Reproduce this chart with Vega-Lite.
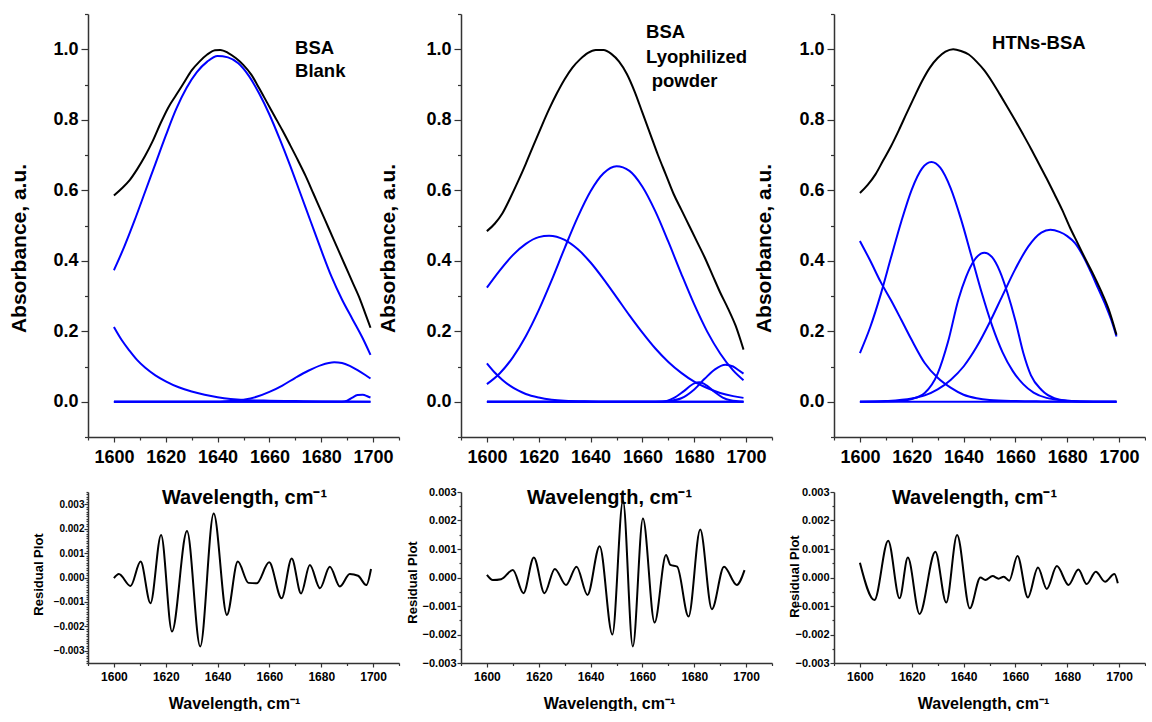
{
  "$schema": "https://vega.github.io/schema/vega-lite/v6.json",
  "background": "white",
  "padding": {"left": 8, "top": 5, "right": 0, "bottom": 0},
  "bounds": "flush",
  "columns": 3,
  "spacing": {"row": 55, "column": 62},
  "config": {
    "view": {"stroke": null},
    "font": "Liberation Sans",
    "axis": {
      "grid": false,
      "domainColor": "#333333",
      "domainWidth": 1.5,
      "tickColor": "#333333",
      "tickWidth": 1.2,
      "labelColor": "#000000",
      "titleColor": "#000000",
      "labelFont": "Liberation Sans",
      "titleFont": "Liberation Sans",
      "labelFontWeight": "bold",
      "titleFontWeight": "bold",
      "labelOverlap": false,
      "labelFlush": false,
      "labelBound": false
    }
  },
  "datasets": {
    "curves": [
      {"p":"A","c":"env","w":1600,"a":0.585},{"p":"A","c":"env","w":1603,"a":0.605},{"p":"A","c":"env","w":1606,"a":0.628},{"p":"A","c":"env","w":1609,"a":0.66},{"p":"A","c":"env","w":1612,"a":0.697},{"p":"A","c":"env","w":1615,"a":0.74},{"p":"A","c":"env","w":1618,"a":0.79},{"p":"A","c":"env","w":1621,"a":0.835},{"p":"A","c":"env","w":1624,"a":0.87},{"p":"A","c":"env","w":1627,"a":0.905},{"p":"A","c":"env","w":1630,"a":0.94},{"p":"A","c":"env","w":1633,"a":0.965},{"p":"A","c":"env","w":1636,"a":0.985},{"p":"A","c":"env","w":1639,"a":0.997},{"p":"A","c":"env","w":1641,"a":0.998},{"p":"A","c":"env","w":1644,"a":0.99},{"p":"A","c":"env","w":1647,"a":0.975},{"p":"A","c":"env","w":1650,"a":0.955},{"p":"A","c":"env","w":1653,"a":0.928},{"p":"A","c":"env","w":1656,"a":0.89},{"p":"A","c":"env","w":1659,"a":0.85},{"p":"A","c":"env","w":1662,"a":0.81},{"p":"A","c":"env","w":1665,"a":0.77},{"p":"A","c":"env","w":1668,"a":0.728},{"p":"A","c":"env","w":1671,"a":0.685},{"p":"A","c":"env","w":1674,"a":0.64},{"p":"A","c":"env","w":1677,"a":0.59},{"p":"A","c":"env","w":1680,"a":0.54},{"p":"A","c":"env","w":1683,"a":0.49},{"p":"A","c":"env","w":1686,"a":0.44},{"p":"A","c":"env","w":1689,"a":0.39},{"p":"A","c":"env","w":1692,"a":0.34},{"p":"A","c":"env","w":1695,"a":0.29},{"p":"A","c":"env","w":1697,"a":0.25},{"p":"A","c":"env","w":1699,"a":0.21},

      {"p":"A","c":"b1","w":1600,"a":0.373},{"p":"A","c":"b1","w":1604,"a":0.44},{"p":"A","c":"b1","w":1608,"a":0.515},{"p":"A","c":"b1","w":1612,"a":0.595},{"p":"A","c":"b1","w":1616,"a":0.675},{"p":"A","c":"b1","w":1620,"a":0.755},{"p":"A","c":"b1","w":1624,"a":0.83},{"p":"A","c":"b1","w":1628,"a":0.89},{"p":"A","c":"b1","w":1632,"a":0.935},{"p":"A","c":"b1","w":1636,"a":0.965},{"p":"A","c":"b1","w":1640,"a":0.981},{"p":"A","c":"b1","w":1644,"a":0.977},{"p":"A","c":"b1","w":1648,"a":0.96},{"p":"A","c":"b1","w":1652,"a":0.925},{"p":"A","c":"b1","w":1656,"a":0.875},{"p":"A","c":"b1","w":1660,"a":0.815},{"p":"A","c":"b1","w":1664,"a":0.745},{"p":"A","c":"b1","w":1668,"a":0.67},{"p":"A","c":"b1","w":1672,"a":0.59},{"p":"A","c":"b1","w":1676,"a":0.51},{"p":"A","c":"b1","w":1680,"a":0.43},{"p":"A","c":"b1","w":1684,"a":0.354},{"p":"A","c":"b1","w":1688,"a":0.29},{"p":"A","c":"b1","w":1692,"a":0.235},{"p":"A","c":"b1","w":1696,"a":0.18},{"p":"A","c":"b1","w":1699,"a":0.133},

      {"p":"A","c":"b2","w":1600,"a":0.212},{"p":"A","c":"b2","w":1603,"a":0.175},{"p":"A","c":"b2","w":1606,"a":0.145},{"p":"A","c":"b2","w":1609,"a":0.118},{"p":"A","c":"b2","w":1612,"a":0.097},{"p":"A","c":"b2","w":1616,"a":0.075},{"p":"A","c":"b2","w":1620,"a":0.058},{"p":"A","c":"b2","w":1625,"a":0.041},{"p":"A","c":"b2","w":1630,"a":0.029},{"p":"A","c":"b2","w":1635,"a":0.02},{"p":"A","c":"b2","w":1640,"a":0.013},{"p":"A","c":"b2","w":1645,"a":0.008},{"p":"A","c":"b2","w":1650,"a":0.005},{"p":"A","c":"b2","w":1660,"a":0.003},{"p":"A","c":"b2","w":1670,"a":0.002},{"p":"A","c":"b2","w":1680,"a":0.001},{"p":"A","c":"b2","w":1699,"a":0.0},

      {"p":"A","c":"b3","w":1600,"a":0},{"p":"A","c":"b3","w":1640,"a":0},{"p":"A","c":"b3","w":1645,"a":0.002},{"p":"A","c":"b3","w":1650,"a":0.006},{"p":"A","c":"b3","w":1655,"a":0.014},{"p":"A","c":"b3","w":1660,"a":0.028},{"p":"A","c":"b3","w":1665,"a":0.046},{"p":"A","c":"b3","w":1670,"a":0.068},{"p":"A","c":"b3","w":1675,"a":0.088},{"p":"A","c":"b3","w":1680,"a":0.104},{"p":"A","c":"b3","w":1685,"a":0.112},{"p":"A","c":"b3","w":1688,"a":0.11},{"p":"A","c":"b3","w":1691,"a":0.102},{"p":"A","c":"b3","w":1694,"a":0.09},{"p":"A","c":"b3","w":1697,"a":0.076},{"p":"A","c":"b3","w":1699,"a":0.066},

      {"p":"A","c":"b4","w":1600,"a":0},{"p":"A","c":"b4","w":1688,"a":0},{"p":"A","c":"b4","w":1690,"a":0.003},{"p":"A","c":"b4","w":1692,"a":0.012},{"p":"A","c":"b4","w":1694,"a":0.019},{"p":"A","c":"b4","w":1696,"a":0.02},{"p":"A","c":"b4","w":1698,"a":0.015},{"p":"A","c":"b4","w":1699,"a":0.012},

      {"p":"A","c":"b5","w":1600,"a":0},{"p":"A","c":"b5","w":1699,"a":0},

      {"p":"B","c":"env","w":1600,"a":0.484},{"p":"B","c":"env","w":1603,"a":0.505},{"p":"B","c":"env","w":1606,"a":0.535},{"p":"B","c":"env","w":1609,"a":0.578},{"p":"B","c":"env","w":1612,"a":0.625},{"p":"B","c":"env","w":1615,"a":0.675},{"p":"B","c":"env","w":1618,"a":0.728},{"p":"B","c":"env","w":1621,"a":0.78},{"p":"B","c":"env","w":1624,"a":0.83},{"p":"B","c":"env","w":1627,"a":0.875},{"p":"B","c":"env","w":1630,"a":0.915},{"p":"B","c":"env","w":1633,"a":0.948},{"p":"B","c":"env","w":1636,"a":0.972},{"p":"B","c":"env","w":1639,"a":0.99},{"p":"B","c":"env","w":1642,"a":0.998},{"p":"B","c":"env","w":1645,"a":0.998},{"p":"B","c":"env","w":1648,"a":0.987},{"p":"B","c":"env","w":1651,"a":0.965},{"p":"B","c":"env","w":1654,"a":0.93},{"p":"B","c":"env","w":1657,"a":0.88},{"p":"B","c":"env","w":1660,"a":0.82},{"p":"B","c":"env","w":1663,"a":0.76},{"p":"B","c":"env","w":1666,"a":0.7},{"p":"B","c":"env","w":1669,"a":0.645},{"p":"B","c":"env","w":1672,"a":0.59},{"p":"B","c":"env","w":1675,"a":0.545},{"p":"B","c":"env","w":1678,"a":0.5},{"p":"B","c":"env","w":1681,"a":0.455},{"p":"B","c":"env","w":1684,"a":0.41},{"p":"B","c":"env","w":1687,"a":0.36},{"p":"B","c":"env","w":1690,"a":0.31},{"p":"B","c":"env","w":1693,"a":0.265},{"p":"B","c":"env","w":1696,"a":0.215},{"p":"B","c":"env","w":1699,"a":0.148},

      {"p":"B","c":"b1","w":1600,"a":0.05},{"p":"B","c":"b1","w":1605,"a":0.081},{"p":"B","c":"b1","w":1610,"a":0.126},{"p":"B","c":"b1","w":1615,"a":0.186},{"p":"B","c":"b1","w":1620,"a":0.26},{"p":"B","c":"b1","w":1625,"a":0.345},{"p":"B","c":"b1","w":1630,"a":0.436},{"p":"B","c":"b1","w":1635,"a":0.523},{"p":"B","c":"b1","w":1640,"a":0.597},{"p":"B","c":"b1","w":1645,"a":0.648},{"p":"B","c":"b1","w":1650,"a":0.668},{"p":"B","c":"b1","w":1655,"a":0.655},{"p":"B","c":"b1","w":1660,"a":0.61},{"p":"B","c":"b1","w":1665,"a":0.54},{"p":"B","c":"b1","w":1670,"a":0.454},{"p":"B","c":"b1","w":1675,"a":0.363},{"p":"B","c":"b1","w":1680,"a":0.276},{"p":"B","c":"b1","w":1685,"a":0.199},{"p":"B","c":"b1","w":1690,"a":0.137},{"p":"B","c":"b1","w":1695,"a":0.089},{"p":"B","c":"b1","w":1699,"a":0.061},

      {"p":"B","c":"b2","w":1600,"a":0.324},{"p":"B","c":"b2","w":1605,"a":0.373},{"p":"B","c":"b2","w":1610,"a":0.416},{"p":"B","c":"b2","w":1615,"a":0.448},{"p":"B","c":"b2","w":1620,"a":0.467},{"p":"B","c":"b2","w":1624,"a":0.471},{"p":"B","c":"b2","w":1630,"a":0.459},{"p":"B","c":"b2","w":1635,"a":0.433},{"p":"B","c":"b2","w":1640,"a":0.395},{"p":"B","c":"b2","w":1645,"a":0.348},{"p":"B","c":"b2","w":1650,"a":0.297},{"p":"B","c":"b2","w":1655,"a":0.245},{"p":"B","c":"b2","w":1660,"a":0.196},{"p":"B","c":"b2","w":1665,"a":0.151},{"p":"B","c":"b2","w":1670,"a":0.113},{"p":"B","c":"b2","w":1675,"a":0.082},{"p":"B","c":"b2","w":1680,"a":0.057},{"p":"B","c":"b2","w":1685,"a":0.039},{"p":"B","c":"b2","w":1690,"a":0.025},{"p":"B","c":"b2","w":1695,"a":0.016},{"p":"B","c":"b2","w":1699,"a":0.011},

      {"p":"B","c":"b3","w":1600,"a":0.109},{"p":"B","c":"b3","w":1603,"a":0.083},{"p":"B","c":"b3","w":1606,"a":0.062},{"p":"B","c":"b3","w":1609,"a":0.045},{"p":"B","c":"b3","w":1612,"a":0.032},{"p":"B","c":"b3","w":1615,"a":0.022},{"p":"B","c":"b3","w":1620,"a":0.012},{"p":"B","c":"b3","w":1625,"a":0.006},{"p":"B","c":"b3","w":1630,"a":0.003},{"p":"B","c":"b3","w":1640,"a":0.001},{"p":"B","c":"b3","w":1650,"a":0},{"p":"B","c":"b3","w":1699,"a":0},

      {"p":"B","c":"b4","w":1600,"a":0},{"p":"B","c":"b4","w":1665,"a":0},{"p":"B","c":"b4","w":1670,"a":0.002},{"p":"B","c":"b4","w":1675,"a":0.01},{"p":"B","c":"b4","w":1680,"a":0.035},{"p":"B","c":"b4","w":1684,"a":0.065},{"p":"B","c":"b4","w":1688,"a":0.092},{"p":"B","c":"b4","w":1692,"a":0.105},{"p":"B","c":"b4","w":1695,"a":0.1},{"p":"B","c":"b4","w":1697,"a":0.09},{"p":"B","c":"b4","w":1699,"a":0.08},

      {"p":"B","c":"b5","w":1600,"a":0},{"p":"B","c":"b5","w":1668,"a":0},{"p":"B","c":"b5","w":1672,"a":0.01},{"p":"B","c":"b5","w":1676,"a":0.03},{"p":"B","c":"b5","w":1680,"a":0.052},{"p":"B","c":"b5","w":1682,"a":0.055},{"p":"B","c":"b5","w":1685,"a":0.045},{"p":"B","c":"b5","w":1688,"a":0.027},{"p":"B","c":"b5","w":1691,"a":0.012},{"p":"B","c":"b5","w":1694,"a":0.004},{"p":"B","c":"b5","w":1699,"a":0},

      {"p":"B","c":"b6","w":1600,"a":0},{"p":"B","c":"b6","w":1699,"a":0},

      {"p":"C","c":"env","w":1600,"a":0.592},{"p":"C","c":"env","w":1603,"a":0.615},{"p":"C","c":"env","w":1606,"a":0.645},{"p":"C","c":"env","w":1609,"a":0.685},{"p":"C","c":"env","w":1612,"a":0.725},{"p":"C","c":"env","w":1615,"a":0.77},{"p":"C","c":"env","w":1618,"a":0.818},{"p":"C","c":"env","w":1621,"a":0.865},{"p":"C","c":"env","w":1624,"a":0.91},{"p":"C","c":"env","w":1627,"a":0.948},{"p":"C","c":"env","w":1630,"a":0.975},{"p":"C","c":"env","w":1633,"a":0.993},{"p":"C","c":"env","w":1636,"a":1.0},{"p":"C","c":"env","w":1639,"a":0.995},{"p":"C","c":"env","w":1642,"a":0.985},{"p":"C","c":"env","w":1645,"a":0.965},{"p":"C","c":"env","w":1648,"a":0.94},{"p":"C","c":"env","w":1651,"a":0.908},{"p":"C","c":"env","w":1654,"a":0.872},{"p":"C","c":"env","w":1657,"a":0.835},{"p":"C","c":"env","w":1660,"a":0.797},{"p":"C","c":"env","w":1663,"a":0.758},{"p":"C","c":"env","w":1666,"a":0.718},{"p":"C","c":"env","w":1669,"a":0.676},{"p":"C","c":"env","w":1672,"a":0.634},{"p":"C","c":"env","w":1675,"a":0.59},{"p":"C","c":"env","w":1678,"a":0.545},{"p":"C","c":"env","w":1681,"a":0.495},{"p":"C","c":"env","w":1684,"a":0.45},{"p":"C","c":"env","w":1687,"a":0.405},{"p":"C","c":"env","w":1690,"a":0.362},{"p":"C","c":"env","w":1693,"a":0.315},{"p":"C","c":"env","w":1696,"a":0.262},{"p":"C","c":"env","w":1699,"a":0.19},

      {"p":"C","c":"b1","w":1600,"a":0.138},{"p":"C","c":"b1","w":1604,"a":0.212},{"p":"C","c":"b1","w":1608,"a":0.304},{"p":"C","c":"b1","w":1612,"a":0.409},{"p":"C","c":"b1","w":1616,"a":0.512},{"p":"C","c":"b1","w":1620,"a":0.602},{"p":"C","c":"b1","w":1624,"a":0.662},{"p":"C","c":"b1","w":1627.6,"a":0.68},{"p":"C","c":"b1","w":1631,"a":0.664},{"p":"C","c":"b1","w":1635,"a":0.606},{"p":"C","c":"b1","w":1639,"a":0.518},{"p":"C","c":"b1","w":1643,"a":0.414},{"p":"C","c":"b1","w":1647,"a":0.309},{"p":"C","c":"b1","w":1651,"a":0.216},{"p":"C","c":"b1","w":1655,"a":0.141},{"p":"C","c":"b1","w":1659,"a":0.087},{"p":"C","c":"b1","w":1663,"a":0.05},{"p":"C","c":"b1","w":1667,"a":0.026},{"p":"C","c":"b1","w":1672,"a":0.011},{"p":"C","c":"b1","w":1680,"a":0.003},{"p":"C","c":"b1","w":1690,"a":0},{"p":"C","c":"b1","w":1699,"a":0},

      {"p":"C","c":"b2","w":1600,"a":0},{"p":"C","c":"b2","w":1615,"a":0.002},{"p":"C","c":"b2","w":1620,"a":0.008},{"p":"C","c":"b2","w":1625,"a":0.025},{"p":"C","c":"b2","w":1630,"a":0.08},{"p":"C","c":"b2","w":1634,"a":0.17},{"p":"C","c":"b2","w":1638,"a":0.29},{"p":"C","c":"b2","w":1641,"a":0.355},{"p":"C","c":"b2","w":1644,"a":0.4},{"p":"C","c":"b2","w":1648,"a":0.423},{"p":"C","c":"b2","w":1651,"a":0.41},{"p":"C","c":"b2","w":1654,"a":0.37},{"p":"C","c":"b2","w":1657,"a":0.307},{"p":"C","c":"b2","w":1660,"a":0.23},{"p":"C","c":"b2","w":1663,"a":0.14},{"p":"C","c":"b2","w":1666,"a":0.075},{"p":"C","c":"b2","w":1670,"a":0.034},{"p":"C","c":"b2","w":1675,"a":0.01},{"p":"C","c":"b2","w":1680,"a":0.003},{"p":"C","c":"b2","w":1690,"a":0},{"p":"C","c":"b2","w":1699,"a":0},

      {"p":"C","c":"b3","w":1600,"a":0},{"p":"C","c":"b3","w":1610,"a":0.002},{"p":"C","c":"b3","w":1620,"a":0.009},{"p":"C","c":"b3","w":1625,"a":0.018},{"p":"C","c":"b3","w":1630,"a":0.035},{"p":"C","c":"b3","w":1635,"a":0.062},{"p":"C","c":"b3","w":1640,"a":0.1},{"p":"C","c":"b3","w":1645,"a":0.155},{"p":"C","c":"b3","w":1650,"a":0.224},{"p":"C","c":"b3","w":1655,"a":0.301},{"p":"C","c":"b3","w":1660,"a":0.377},{"p":"C","c":"b3","w":1665,"a":0.441},{"p":"C","c":"b3","w":1670,"a":0.48},{"p":"C","c":"b3","w":1673.5,"a":0.488},{"p":"C","c":"b3","w":1677,"a":0.482},{"p":"C","c":"b3","w":1680,"a":0.47},{"p":"C","c":"b3","w":1683,"a":0.45},{"p":"C","c":"b3","w":1686,"a":0.415},{"p":"C","c":"b3","w":1689,"a":0.37},{"p":"C","c":"b3","w":1692,"a":0.32},{"p":"C","c":"b3","w":1695,"a":0.27},{"p":"C","c":"b3","w":1697,"a":0.232},{"p":"C","c":"b3","w":1699,"a":0.185},

      {"p":"C","c":"b4","w":1600,"a":0.456},{"p":"C","c":"b4","w":1604,"a":0.4},{"p":"C","c":"b4","w":1608,"a":0.34},{"p":"C","c":"b4","w":1612,"a":0.288},{"p":"C","c":"b4","w":1616,"a":0.232},{"p":"C","c":"b4","w":1620,"a":0.175},{"p":"C","c":"b4","w":1625,"a":0.11},{"p":"C","c":"b4","w":1630,"a":0.068},{"p":"C","c":"b4","w":1635,"a":0.04},{"p":"C","c":"b4","w":1640,"a":0.02},{"p":"C","c":"b4","w":1645,"a":0.01},{"p":"C","c":"b4","w":1650,"a":0.005},{"p":"C","c":"b4","w":1660,"a":0.002},{"p":"C","c":"b4","w":1670,"a":0.001},{"p":"C","c":"b4","w":1699,"a":0},

      {"p":"C","c":"b5","w":1600,"a":0},{"p":"C","c":"b5","w":1699,"a":0}
    ],
    "resid": [
      {"p":"A","w":1600,"r":-0.00003},{"p":"A","w":1601.9,"r":0.00014},{"p":"A","w":1606.4,"r":-0.00035},{"p":"A","w":1610.3,"r":0.00065},{"p":"A","w":1614.1,"r":-0.00105},{"p":"A","w":1618.2,"r":0.00174},{"p":"A","w":1622.4,"r":-0.00221},{"p":"A","w":1628.2,"r":0.0019},{"p":"A","w":1633.3,"r":-0.00282},{"p":"A","w":1638.5,"r":0.00262},{"p":"A","w":1643.6,"r":-0.00153},{"p":"A","w":1647.8,"r":0.00065},{"p":"A","w":1651.9,"r":-0.00022},{"p":"A","w":1655.1,"r":-0.00024},{"p":"A","w":1659.9,"r":0.00062},{"p":"A","w":1664.7,"r":-0.00085},{"p":"A","w":1668.6,"r":0.00078},{"p":"A","w":1672.2,"r":-0.00065},{"p":"A","w":1675.6,"r":0.00051},{"p":"A","w":1679.5,"r":-0.00044},{"p":"A","w":1683.3,"r":0.00044},{"p":"A","w":1687.2,"r":-0.00037},{"p":"A","w":1691,"r":0.00014},{"p":"A","w":1694.2,"r":0.00007},{"p":"A","w":1697.4,"r":-0.00031},{"p":"A","w":1699.2,"r":0.00035},

      {"p":"B","w":1600,"r":0.00009},{"p":"B","w":1602.3,"r":-0.00009},{"p":"B","w":1605.5,"r":-0.00006},{"p":"B","w":1610,"r":0.00026},{"p":"B","w":1614.1,"r":-0.00055},{"p":"B","w":1618.1,"r":0.0007},{"p":"B","w":1622.2,"r":-0.00055},{"p":"B","w":1626.2,"r":0.0003},{"p":"B","w":1630.5,"r":-0.00026},{"p":"B","w":1634.6,"r":0.00038},{"p":"B","w":1638.8,"r":-0.00061},{"p":"B","w":1643.5,"r":0.0011},{"p":"B","w":1648.4,"r":-0.002},{"p":"B","w":1652.5,"r":0.0027},{"p":"B","w":1656.3,"r":-0.00242},{"p":"B","w":1660.2,"r":0.00207},{"p":"B","w":1664.7,"r":-0.00158},{"p":"B","w":1669.1,"r":0.00079},{"p":"B","w":1670.8,"r":0.00044},{"p":"B","w":1673.4,"r":0.00038},{"p":"B","w":1677.8,"r":-0.00137},{"p":"B","w":1682.3,"r":0.00168},{"p":"B","w":1686.8,"r":-0.00111},{"p":"B","w":1691.5,"r":0.00038},{"p":"B","w":1696.4,"r":-0.00026},{"p":"B","w":1699.4,"r":0.00026},

      {"p":"C","w":1600,"r":0.00052},{"p":"C","w":1605.6,"r":-0.00079},{"p":"C","w":1610.9,"r":0.00129},{"p":"C","w":1615.3,"r":-0.00073},{"p":"C","w":1618.5,"r":0.0007},{"p":"C","w":1623,"r":-0.00128},{"p":"C","w":1629.1,"r":0.0009},{"p":"C","w":1633.3,"r":-0.00088},{"p":"C","w":1637.5,"r":0.00149},{"p":"C","w":1642.4,"r":-0.00108},{"p":"C","w":1646.5,"r":0.0},{"p":"C","w":1648.4,"r":-0.00009},{"p":"C","w":1651.2,"r":0.00005},{"p":"C","w":1653.5,"r":-0.00004},{"p":"C","w":1655.5,"r":0.00003},{"p":"C","w":1657.6,"r":-0.00011},{"p":"C","w":1660.8,"r":0.00075},{"p":"C","w":1664.8,"r":-0.0007},{"p":"C","w":1668.7,"r":0.00035},{"p":"C","w":1672.1,"r":-0.0004},{"p":"C","w":1676,"r":0.0004},{"p":"C","w":1680.5,"r":-0.00026},{"p":"C","w":1684.3,"r":0.00028},{"p":"C","w":1687.5,"r":-0.00023},{"p":"C","w":1691,"r":0.0002},{"p":"C","w":1694.6,"r":-0.00015},{"p":"C","w":1698.2,"r":0.00012},{"p":"C","w":1699.5,"r":-0.0002}
    ],
    "notes": [
      {"p":"A","w":1669.9,"a":0.986,"t":"BSA"},
      {"p":"A","w":1669.9,"a":0.92,"t":"Blank"},
      {"p":"B","w":1661.4,"a":1.031,"t":"BSA"},
      {"p":"B","w":1661.4,"a":0.961,"t":"Lyophilized"},
      {"p":"B","w":1663.6,"a":0.893,"t":"powder"},
      {"p":"C","w":1651,"a":1.0,"t":"HTNs-BSA"}
    ]
  },
  "concat": [
    {
      "width": 311, "height": 423,
      "encoding": {
        "x": {"field": "w", "type": "quantitative", "scale": {"domain": [1590, 1710], "nice": false, "zero": false},
          "axis": {"values": [1590,1600,1610,1620,1630,1640,1650,1660,1670,1680,1690,1700,1710], "format": "d",
            "labelExpr": "datum.value % 20 == 0 ? datum.label : ''",
            "tickSize": {"condition": {"test": "datum.value % 20 == 0", "value": 5}, "value": 3},
            "labelFontSize": 18, "labelPadding": 6,
            "title": "Wavelength, cm⁻¹", "titleFontSize": 20, "titleX": 156, "titleY": 66, "titleBaseline": "alphabetic", "titleAlign": "center"}},
        "y": {"field": "a", "type": "quantitative", "scale": {"domain": [-0.1, 1.1], "nice": false, "zero": false},
          "axis": {"values": [-0.1,0,0.1,0.2,0.3,0.4,0.5,0.6,0.7,0.8,0.9,1,1.1], "format": ".1f",
            "labelExpr": "abs(round(datum.value*10)) % 2 == 0 ? datum.label : ''",
            "tickSize": {"condition": {"test": "abs(round(datum.value*10)) % 2 == 0", "value": 7}, "value": 3.5},
            "labelFontSize": 18, "labelPadding": 3,
            "title": "Absorbance, a.u.", "titleFontSize": 21, "titleX": -69, "titleY": 234, "titleAngle": -90, "titleAlign": "center", "titleBaseline": "middle"}}
      },
      "layer": [
        {
          "data": {"name": "curves"},
          "transform": [{"filter": "datum.p == 'A' && datum.c != 'env'"}],
          "mark": {"type": "line", "color": "#0000ff", "strokeWidth": 2, "interpolate": "monotone"},
          "encoding": {"detail": {"field": "c", "type": "nominal"}}
        },
        {
          "data": {"name": "curves"},
          "transform": [{"filter": "datum.p == 'A' && datum.c == 'env'"}],
          "mark": {"type": "line", "color": "#000000", "strokeWidth": 2, "interpolate": "monotone"},
          "encoding": {}
        },
        {
          "data": {"name": "notes"},
          "transform": [{"filter": "datum.p == 'A'"}],
          "mark": {"type": "text", "align": "left", "baseline": "alphabetic", "font": "Liberation Sans", "fontWeight": "bold", "fontSize": 18.5, "color": "#000000"},
          "encoding": {"text": {"field": "t", "type": "nominal"}}
        }
      ]
    },
    {
      "width": 311, "height": 423,
      "encoding": {
        "x": {"field": "w", "type": "quantitative", "scale": {"domain": [1590, 1710], "nice": false, "zero": false},
          "axis": {"values": [1590,1600,1610,1620,1630,1640,1650,1660,1670,1680,1690,1700,1710], "format": "d",
            "labelExpr": "datum.value % 20 == 0 ? datum.label : ''",
            "tickSize": {"condition": {"test": "datum.value % 20 == 0", "value": 5}, "value": 3},
            "labelFontSize": 18, "labelPadding": 6,
            "title": "Wavelength, cm⁻¹", "titleFontSize": 20, "titleX": 148, "titleY": 66, "titleBaseline": "alphabetic", "titleAlign": "center"}},
        "y": {"field": "a", "type": "quantitative", "scale": {"domain": [-0.1, 1.1], "nice": false, "zero": false},
          "axis": {"values": [-0.1,0,0.1,0.2,0.3,0.4,0.5,0.6,0.7,0.8,0.9,1,1.1], "format": ".1f",
            "labelExpr": "abs(round(datum.value*10)) % 2 == 0 ? datum.label : ''",
            "tickSize": {"condition": {"test": "abs(round(datum.value*10)) % 2 == 0", "value": 7}, "value": 3.5},
            "labelFontSize": 18, "labelPadding": 3,
            "title": "Absorbance, a.u.", "titleFontSize": 21, "titleX": -73, "titleY": 234, "titleAngle": -90, "titleAlign": "center", "titleBaseline": "middle"}}
      },
      "layer": [
        {
          "data": {"name": "curves"},
          "transform": [{"filter": "datum.p == 'B' && datum.c != 'env'"}],
          "mark": {"type": "line", "color": "#0000ff", "strokeWidth": 2, "interpolate": "monotone"},
          "encoding": {"detail": {"field": "c", "type": "nominal"}}
        },
        {
          "data": {"name": "curves"},
          "transform": [{"filter": "datum.p == 'B' && datum.c == 'env'"}],
          "mark": {"type": "line", "color": "#000000", "strokeWidth": 2, "interpolate": "monotone"},
          "encoding": {}
        },
        {
          "data": {"name": "notes"},
          "transform": [{"filter": "datum.p == 'B'"}],
          "mark": {"type": "text", "align": "left", "baseline": "alphabetic", "font": "Liberation Sans", "fontWeight": "bold", "fontSize": 18.5, "color": "#000000"},
          "encoding": {"text": {"field": "t", "type": "nominal"}}
        }
      ]
    },
    {
      "width": 311, "height": 423,
      "encoding": {
        "x": {"field": "w", "type": "quantitative", "scale": {"domain": [1590, 1710], "nice": false, "zero": false},
          "axis": {"values": [1590,1600,1610,1620,1630,1640,1650,1660,1670,1680,1690,1700,1710], "format": "d",
            "labelExpr": "datum.value % 20 == 0 ? datum.label : ''",
            "tickSize": {"condition": {"test": "datum.value % 20 == 0", "value": 5}, "value": 3},
            "labelFontSize": 18, "labelPadding": 6,
            "title": "Wavelength, cm⁻¹", "titleFontSize": 20, "titleX": 140, "titleY": 66, "titleBaseline": "alphabetic", "titleAlign": "center"}},
        "y": {"field": "a", "type": "quantitative", "scale": {"domain": [-0.1, 1.1], "nice": false, "zero": false},
          "axis": {"values": [-0.1,0,0.1,0.2,0.3,0.4,0.5,0.6,0.7,0.8,0.9,1,1.1], "format": ".1f",
            "labelExpr": "abs(round(datum.value*10)) % 2 == 0 ? datum.label : ''",
            "tickSize": {"condition": {"test": "abs(round(datum.value*10)) % 2 == 0", "value": 7}, "value": 3.5},
            "labelFontSize": 18, "labelPadding": 3,
            "title": "Absorbance, a.u.", "titleFontSize": 21, "titleX": -70, "titleY": 234, "titleAngle": -90, "titleAlign": "center", "titleBaseline": "middle"}}
      },
      "layer": [
        {
          "data": {"name": "curves"},
          "transform": [{"filter": "datum.p == 'C' && datum.c != 'env'"}],
          "mark": {"type": "line", "color": "#0000ff", "strokeWidth": 2, "interpolate": "monotone"},
          "encoding": {"detail": {"field": "c", "type": "nominal"}}
        },
        {
          "data": {"name": "curves"},
          "transform": [{"filter": "datum.p == 'C' && datum.c == 'env'"}],
          "mark": {"type": "line", "color": "#000000", "strokeWidth": 2, "interpolate": "monotone"},
          "encoding": {}
        },
        {
          "data": {"name": "notes"},
          "transform": [{"filter": "datum.p == 'C'"}],
          "mark": {"type": "text", "align": "left", "baseline": "alphabetic", "font": "Liberation Sans", "fontWeight": "bold", "fontSize": 18.5, "color": "#000000"},
          "encoding": {"text": {"field": "t", "type": "nominal"}}
        }
      ]
    },
    {
      "width": 311, "height": 171,
      "data": {"name": "resid"},
      "transform": [{"filter": "datum.p == 'A'"}],
      "mark": {"type": "line", "color": "#000000", "strokeWidth": 2, "interpolate": "monotone"},
      "encoding": {
        "x": {"field": "w", "type": "quantitative", "scale": {"domain": [1590, 1710], "nice": false, "zero": false},
          "axis": {"values": [1590,1600,1610,1620,1630,1640,1650,1660,1670,1680,1690,1700,1710], "format": "d",
            "labelExpr": "datum.value % 20 == 0 ? datum.label : ''",
            "tickSize": {"condition": {"test": "datum.value % 20 == 0", "value": 4}, "value": 2.5},
            "labelFontSize": 12, "labelPadding": 4,
            "title": "Wavelength, cm⁻¹", "titleFontSize": 16, "titleX": 146, "titleY": 45, "titleBaseline": "alphabetic", "titleAlign": "center"}},
        "y": {"field": "r", "type": "quantitative", "scale": {"domain": [-0.0035, 0.0035], "nice": false, "zero": false},
          "axis": {"values": [-0.0035,-0.0034,-0.0033,-0.0032,-0.0031,-0.003,-0.0029,-0.0028,-0.0027,-0.0026,-0.0025,-0.0024,-0.0023,-0.0022,-0.0021,-0.002,-0.0019,-0.0018,-0.0017,-0.0016,-0.0015,-0.0014,-0.0013,-0.0012,-0.0011,-0.001,-0.0009,-0.0008,-0.0007,-0.0006,-0.0005,-0.0004,-0.0003,-0.0002,-0.0001,0,0.0001,0.0002,0.0003,0.0004,0.0005,0.0006,0.0007,0.0008,0.0009,0.001,0.0011,0.0012,0.0013,0.0014,0.0015,0.0016,0.0017,0.0018,0.0019,0.002,0.0021,0.0022,0.0023,0.0024,0.0025,0.0026,0.0027,0.0028,0.0029,0.003,0.0031,0.0032,0.0033,0.0034,0.0035],
            "format": ".3f",
            "labelExpr": "abs(round(datum.value*10000)) % 10 == 0 ? datum.label : ''",
            "tickSize": {"condition": {"test": "abs(round(datum.value*10000)) % 10 == 0", "value": 4}, "value": 2},
            "labelFontSize": 10, "labelPadding": 0,
            "title": "Residual Plot", "titleFontSize": 13, "titleX": -50, "titleY": 82, "titleAngle": -90, "titleAlign": "center", "titleBaseline": "middle"}}
      }
    },
    {
      "width": 311, "height": 171,
      "data": {"name": "resid"},
      "transform": [{"filter": "datum.p == 'B'"}],
      "mark": {"type": "line", "color": "#000000", "strokeWidth": 2, "interpolate": "monotone"},
      "encoding": {
        "x": {"field": "w", "type": "quantitative", "scale": {"domain": [1590, 1710], "nice": false, "zero": false},
          "axis": {"values": [1590,1600,1610,1620,1630,1640,1650,1660,1670,1680,1690,1700,1710], "format": "d",
            "labelExpr": "datum.value % 20 == 0 ? datum.label : ''",
            "tickSize": {"condition": {"test": "datum.value % 20 == 0", "value": 4}, "value": 2.5},
            "labelFontSize": 12, "labelPadding": 4,
            "title": "Wavelength, cm⁻¹", "titleFontSize": 16, "titleX": 148, "titleY": 45, "titleBaseline": "alphabetic", "titleAlign": "center"}},
        "y": {"field": "r", "type": "quantitative", "scale": {"domain": [-0.003, 0.003], "nice": false, "zero": false},
          "axis": {"values": [-0.003,-0.0025,-0.002,-0.0015,-0.001,-0.0005,0,0.0005,0.001,0.0015,0.002,0.0025,0.003],
            "format": ".3f",
            "labelExpr": "abs(round(datum.value*10000)) % 10 == 0 ? datum.label : ''",
            "tickSize": {"condition": {"test": "abs(round(datum.value*10000)) % 10 == 0", "value": 4}, "value": 2},
            "labelFontSize": 11, "labelPadding": 1,
            "title": "Residual Plot", "titleFontSize": 13, "titleX": -49, "titleY": 90, "titleAngle": -90, "titleAlign": "center", "titleBaseline": "middle"}}
      }
    },
    {
      "width": 311, "height": 171,
      "data": {"name": "resid"},
      "transform": [{"filter": "datum.p == 'C'"}],
      "mark": {"type": "line", "color": "#000000", "strokeWidth": 2, "interpolate": "monotone"},
      "encoding": {
        "x": {"field": "w", "type": "quantitative", "scale": {"domain": [1590, 1710], "nice": false, "zero": false},
          "axis": {"values": [1590,1600,1610,1620,1630,1640,1650,1660,1670,1680,1690,1700,1710], "format": "d",
            "labelExpr": "datum.value % 20 == 0 ? datum.label : ''",
            "tickSize": {"condition": {"test": "datum.value % 20 == 0", "value": 4}, "value": 2.5},
            "labelFontSize": 12, "labelPadding": 4,
            "title": "Wavelength, cm⁻¹", "titleFontSize": 16, "titleX": 149, "titleY": 45, "titleBaseline": "alphabetic", "titleAlign": "center"}},
        "y": {"field": "r", "type": "quantitative", "scale": {"domain": [-0.003, 0.003], "nice": false, "zero": false},
          "axis": {"values": [-0.003,-0.0025,-0.002,-0.0015,-0.001,-0.0005,0,0.0005,0.001,0.0015,0.002,0.0025,0.003],
            "format": ".3f",
            "labelExpr": "abs(round(datum.value*10000)) % 10 == 0 ? datum.label : ''",
            "tickSize": {"condition": {"test": "abs(round(datum.value*10000)) % 10 == 0", "value": 4}, "value": 2},
            "labelFontSize": 11, "labelPadding": 1,
            "title": "Residual Plot", "titleFontSize": 13, "titleX": -40, "titleY": 84, "titleAngle": -90, "titleAlign": "center", "titleBaseline": "middle"}}
      }
    }
  ]
}
